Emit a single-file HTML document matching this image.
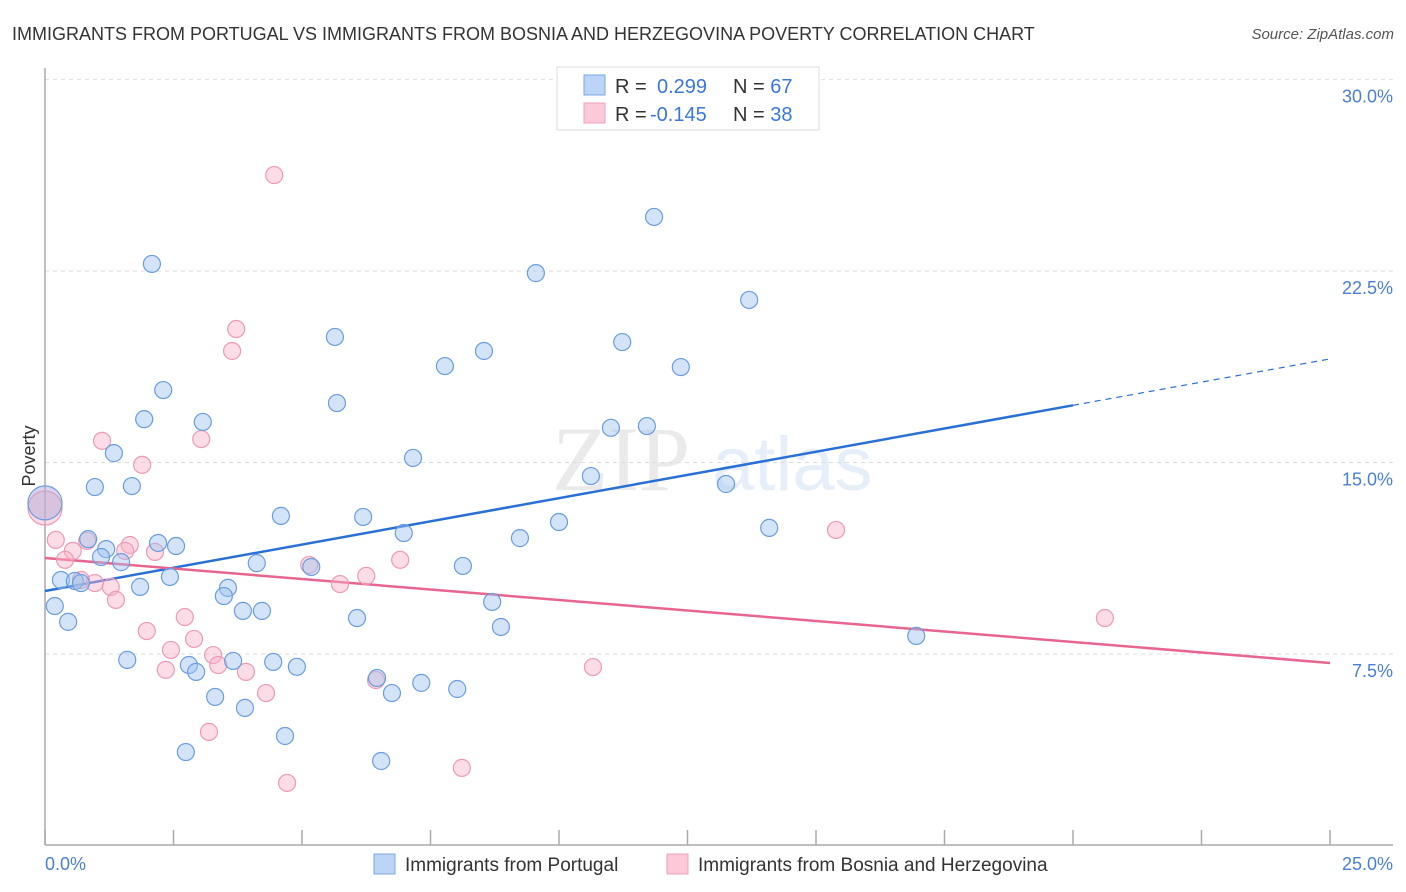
<!DOCTYPE html>
<html><head><meta charset="utf-8"><style>
body{margin:0;background:#fff;font-family:"Liberation Sans",sans-serif;}
#wrap{position:relative;width:1406px;height:892px;overflow:hidden;}
</style></head><body><div id="wrap">
<svg id="chart" width="1406" height="892" xmlns="http://www.w3.org/2000/svg" font-family="Liberation Sans, sans-serif">
<text x="12" y="40" font-size="18" fill="#333">IMMIGRANTS FROM PORTUGAL VS IMMIGRANTS FROM BOSNIA AND HERZEGOVINA POVERTY CORRELATION CHART</text>
<text x="1394" y="39" font-size="15" fill="#555" font-style="italic" text-anchor="end">Source: ZipAtlas.com</text>
<g opacity="0.13"><text x="552" y="490" font-size="92" font-family="Liberation Serif, serif" fill="#666">ZIP</text><text x="712" y="490" font-size="76" fill="#4a7fd6">atlas</text></g>
<g id="grid"></g><g id="axes"></g><g id="trend"></g><g id="pts"></g>
<text x="35" y="456" font-size="18" fill="#333" transform="rotate(-90 35 456)" text-anchor="middle">Poverty</text>
<g>
<rect x="557" y="67" width="262" height="63" fill="#fff" stroke="#ddd"/>
<rect x="584" y="75" width="21" height="20" fill="#bcd4f6" stroke="#7aa7e6"/>
<rect x="584" y="103" width="21" height="20" fill="#fbc9d8" stroke="#f0a0bc"/>
<text x="615" y="93" font-size="20" fill="#333">R = <tspan fill="#3a78d8" x="657">0.299</tspan><tspan fill="#333" x="733">N = </tspan><tspan fill="#3a78d8">67</tspan></text>
<text x="615" y="121" font-size="20" fill="#333">R = <tspan fill="#3a78d8" x="650">-0.145</tspan><tspan fill="#333" x="733">N = </tspan><tspan fill="#3a78d8">38</tspan></text>
</g>
<g>
<rect x="374" y="854" width="21" height="20" fill="#bcd4f6" stroke="#7aa7e6"/>
<text x="405" y="871" font-size="19" fill="#333">Immigrants from Portugal</text>
<rect x="667" y="854" width="21" height="20" fill="#fbc9d8" stroke="#f0a0bc"/>
<text x="698" y="871" font-size="19" fill="#333">Immigrants from Bosnia and Herzegovina</text>
</g>
</svg></div>
<script>
const blueX=[2.08,11.85,9.55,13.70,5.64,8.54,11.23,7.78,12.37,2.30,5.68,1.93,3.07,11.01,11.71,1.34,7.16,0.97,1.69,10.62,13.25,4.59,6.19,10.00,14.09,6.98,9.24,0.84,2.20,2.55,1.19,1.09,1.48,4.12,5.18,8.13,2.43,0.31,0.58,0.70,1.85,3.56,3.48,0.19,3.85,4.22,8.70,6.07,0.45,8.87,16.95,1.60,3.66,4.44,4.90,2.80,2.94,6.46,7.32,6.75,8.02,3.31,3.89,4.67,2.74,6.54];
const blueY=[22.78,24.62,22.42,21.37,19.92,19.37,19.72,18.78,18.74,17.84,17.33,16.70,16.59,16.36,16.43,15.37,15.18,14.04,14.08,14.47,14.16,12.91,12.87,12.67,12.44,12.24,12.04,12.00,11.85,11.73,11.61,11.30,11.10,11.06,10.91,10.95,10.52,10.40,10.36,10.28,10.13,10.09,9.77,9.38,9.19,9.19,9.54,8.91,8.76,8.56,8.21,7.27,7.23,7.19,7.00,7.07,6.80,6.56,6.37,5.97,6.13,5.82,5.39,4.29,3.66,3.31];
const pinkX=[4.46,3.72,3.64,1.11,1.89,3.04,0.21,0.82,0.54,0.39,1.65,1.56,2.14,0.70,0.97,1.28,1.38,5.14,6.91,6.25,5.74,2.72,1.98,2.90,2.45,3.27,3.37,2.35,3.91,6.44,4.30,10.66,15.39,20.62,3.19,4.71,8.11];
const pinkY=[26.26,20.23,19.37,15.85,14.91,15.92,11.97,11.93,11.54,11.19,11.77,11.54,11.50,10.40,10.28,10.13,9.62,10.99,11.19,10.56,10.24,8.95,8.40,8.09,7.66,7.46,7.07,6.88,6.80,6.48,5.97,6.99,12.36,8.91,4.45,2.45,3.04];
const bigBlue=[0,13.42], bigPink=[0,13.22];
const blueTrend=[9.97,19.06], pinkTrend=[11.26,7.15];
const yTicks=[7.5,15,22.5,30];
const yTickLabels=["7.5%","15.0%","22.5%","30.0%"];
const xTicks=[0,2.5,5,7.5,10,12.5,15,17.5,20,22.5,25];
const NS="http://www.w3.org/2000/svg";
const sx=v=>45+v*51.4, sy=v=>845.5-v*25.53;
function mk(tag,attrs,parent){const e=document.createElementNS(NS,tag);for(const k in attrs)e.setAttribute(k,attrs[k]);document.getElementById(parent).appendChild(e);return e;}
yTicks.forEach((t,i)=>{
 let g=mk('line',{x1:45,x2:1393,y1:sy(t),y2:sy(t),stroke:'#ddd','stroke-dasharray':'4,4'},'grid');
 
 
 let l=mk('text',{x:1393,y:sy(t)+23,'font-size':18,fill:'#4a7fd6','text-anchor':'end'},'grid');l.textContent=yTickLabels[i];
 
 
});
let ax=mk('line',{x1:45,x2:45,y1:68,y2:845,stroke:'#aaa','stroke-width':1.5},'axes');


let bx=mk('line',{x1:45,x2:1393,y1:845,y2:845,stroke:'#aaa','stroke-width':1.5},'axes');


xTicks.forEach(t=>{let k=mk('line',{x1:sx(t),x2:sx(t),y1:830,y2:845,stroke:'#aaa','stroke-width':1.5},'axes');
 
 });
let x0=mk('text',{x:45,y:870,'font-size':18,fill:'#4a7fd6'},'axes');x0.textContent='0.0%';


let x1=mk('text',{x:1393,y:870,'font-size':18,fill:'#4a7fd6','text-anchor':'end'},'axes');x1.textContent='25.0%';


function dot(x,y,r,fill,stroke,name){const c=mk('circle',{cx:sx(x),cy:sy(y),r:r,fill:fill,stroke:stroke,'stroke-width':1.2},'pts');
 
 }
const bF='rgba(160,195,240,0.45)',bS='#6a9de0',pF='rgba(248,178,200,0.45)',pS='#ee9ab6';
dot(bigPink[0],bigPink[1],17,pF,pS,'point-bosnia-large');
dot(bigBlue[0],bigBlue[1],17,'rgba(180,170,215,0.5)',bS,'point-portugal-large');
pinkX.forEach((x,i)=>dot(x,pinkY[i],8.5,pF,pS,'point-bosnia'));
blueX.forEach((x,i)=>dot(x,blueY[i],8.5,bF,bS,'point-portugal'));
const bAt=v=>blueTrend[0]+(blueTrend[1]-blueTrend[0])*v/25;
let t1=mk('line',{x1:sx(0),y1:sy(bAt(0)),x2:sx(20),y2:sy(bAt(20)),stroke:'#2a6fd6','stroke-width':2.5},'trend');


let t2=mk('line',{x1:sx(20),y1:sy(bAt(20)),x2:sx(25),y2:sy(bAt(25)),stroke:'#2a6fd6','stroke-width':1.2,'stroke-dasharray':'6,5'},'trend');


let t3=mk('line',{x1:sx(0),y1:sy(pinkTrend[0]),x2:sx(25),y2:sy(pinkTrend[1]),stroke:'#e8658f','stroke-width':2.5},'trend');


</script></body></html>
